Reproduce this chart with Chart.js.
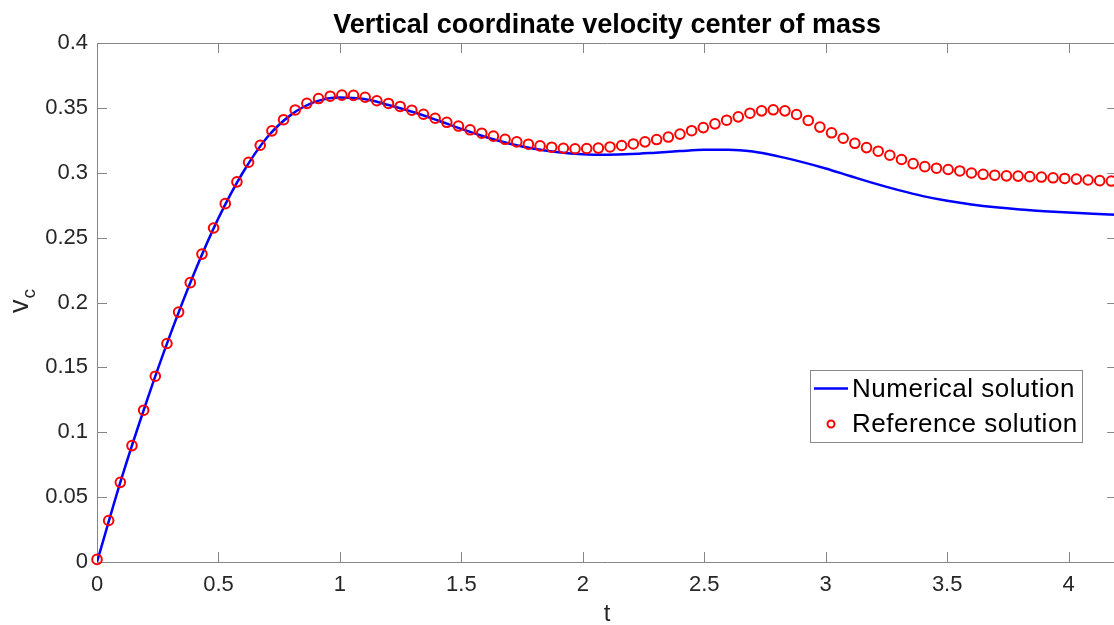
<!DOCTYPE html>
<html>
<head>
<meta charset="utf-8">
<script src="https://cdn.jsdelivr.net/npm/chart.js@4.4.1/dist/chart.umd.min.js"></script>
<style>
  html, body { margin: 0; padding: 0; background: #fff; overflow: hidden; }
  /* The canvas is a bit wider than the window: the axes box runs just past the right edge. */
  #wrap { width: 1114px; height: 625px; overflow: hidden; }
</style>
</head>
<body>
<div id="wrap"><canvas id="vc-chart" width="1124" height="625"></canvas></div>
<script>
// Reference solution samples (red circles).
const refT = [
    0.000, 0.048, 0.096, 0.144, 0.192, 0.240, 0.288, 0.336, 0.384, 0.432,
    0.480, 0.528, 0.576, 0.624, 0.672, 0.720, 0.768, 0.816, 0.864, 0.912,
    0.960, 1.008, 1.056, 1.104, 1.152, 1.200, 1.248, 1.296, 1.344, 1.392,
    1.440, 1.488, 1.536, 1.584, 1.632, 1.680, 1.728, 1.776, 1.824, 1.872,
    1.920, 1.968, 2.016, 2.064, 2.112, 2.160, 2.208, 2.256, 2.304, 2.352,
    2.400, 2.448, 2.496, 2.544, 2.592, 2.640, 2.688, 2.736, 2.784, 2.832,
    2.880, 2.928, 2.976, 3.024, 3.072, 3.120, 3.168, 3.216, 3.264, 3.312,
    3.360, 3.408, 3.456, 3.504, 3.552, 3.600, 3.648, 3.696, 3.744, 3.792,
    3.840, 3.888, 3.936, 3.984, 4.032, 4.080, 4.128, 4.176
];
const refV = [
    0.0020, 0.0320, 0.0614, 0.0897, 0.1170, 0.1432, 0.1684, 0.1926, 0.2153, 0.2373,
    0.2574, 0.2762, 0.2930, 0.3081, 0.3212, 0.3323, 0.3409, 0.3484, 0.3535, 0.3572,
    0.3590, 0.3598, 0.3596, 0.3582, 0.3555, 0.3534, 0.3511, 0.3482, 0.3451, 0.3420,
    0.3389, 0.3360, 0.3331, 0.3305, 0.3282, 0.3258, 0.3238, 0.3220, 0.3207, 0.3197,
    0.3189, 0.3185, 0.3187, 0.3190, 0.3199, 0.3210, 0.3222, 0.3238, 0.3256, 0.3275,
    0.3298, 0.3324, 0.3348, 0.3377, 0.3405, 0.3431, 0.3459, 0.3477, 0.3485, 0.3477,
    0.3449, 0.3403, 0.3352, 0.3308, 0.3266, 0.3227, 0.3194, 0.3166, 0.3135, 0.3102,
    0.3070, 0.3047, 0.3035, 0.3025, 0.3014, 0.2998, 0.2988, 0.2981, 0.2976, 0.2974,
    0.2970, 0.2967, 0.2961, 0.2956, 0.2951, 0.2944, 0.2939, 0.2936
];

// Numerical solution (blue line).
const numT = [
    0.0, 0.1, 0.2, 0.3, 0.4, 0.5, 0.6, 0.7, 0.8, 0.9,
    1.0, 1.1, 1.2, 1.3, 1.4, 1.5, 1.6, 1.7, 1.8, 1.9,
    2.0, 2.1, 2.2, 2.3, 2.4, 2.5, 2.6, 2.7, 2.8, 2.9,
    3.0, 3.1, 3.2, 3.3, 3.4, 3.5, 3.6, 3.7, 3.8, 3.9,
    4.0, 4.1, 4.2
];
const numV = [
    0.0000, 0.0638, 0.1214, 0.1745, 0.2226, 0.2650, 0.3000, 0.3272, 0.3448, 0.3548,
    0.3580, 0.3568, 0.3522, 0.3468, 0.3405, 0.3338, 0.3276, 0.3224, 0.3185, 0.3158,
    0.3143, 0.3139, 0.3144, 0.3155, 0.3167, 0.3177, 0.3178, 0.3163, 0.3128, 0.3084,
    0.3033, 0.2975, 0.2918, 0.2866, 0.2820, 0.2784, 0.2756, 0.2734, 0.2717, 0.2704,
    0.2693, 0.2684, 0.2676
];

const titleText = "Vertical coordinate velocity center of mass";
const xLabel = "t";
const legendLabels = ["Numerical solution", "Reference solution"];

const FONT = "'Liberation Sans', Arial, Helvetica, sans-serif";
const AXIS_GREY = "#868686";
const TICK_TEXT = "#262626";

const toPoints = (xs, ys) => xs.map((x, i) => ({ x, y: ys[i] }));

// MATLAB-style box with inward tick marks on all four sides.
const axesBox = {
    id: "axesBox",
    beforeDatasetsDraw(chart) {
        const { ctx, chartArea: a, scales: { x, y } } = chart;
        const len = 10;
        ctx.save();
        ctx.strokeStyle = AXIS_GREY;
        ctx.lineWidth = 1;
        ctx.beginPath();
        ctx.rect(a.left + 0.5, a.top + 0.5, a.right - a.left, a.bottom - a.top);
        for (const t of x.ticks) {
            const px = Math.round(x.getPixelForValue(t.value)) + 0.5;
            ctx.moveTo(px, a.bottom); ctx.lineTo(px, a.bottom - len);
            ctx.moveTo(px, a.top);    ctx.lineTo(px, a.top + len);
        }
        for (const t of y.ticks) {
            const py = Math.round(y.getPixelForValue(t.value)) + 0.5;
            ctx.moveTo(a.left, py);  ctx.lineTo(a.left + len, py);
            ctx.moveTo(a.right, py); ctx.lineTo(a.right - len, py);
        }
        ctx.stroke();
        ctx.restore();
    },
};

// y label with a subscript: v_c, rotated.
const yLabel = {
    id: "yLabel",
    afterDraw(chart) {
        const { ctx } = chart;
        ctx.save();
        ctx.translate(28, 313);
        ctx.rotate(-Math.PI / 2);
        ctx.fillStyle = TICK_TEXT;
        ctx.textBaseline = "alphabetic";
        ctx.textAlign = "left";
        ctx.font = `27px ${FONT}`;
        ctx.fillText("v", 0, 0);
        const w = ctx.measureText("v").width;
        ctx.font = `19px ${FONT}`;
        ctx.fillText("c", w + 1, 7);
        ctx.restore();
    },
};

// Boxed legend inside the axes, lower right.
const boxLegend = {
    id: "boxLegend",
    afterDraw(chart) {
        const { ctx } = chart;
        const bx = 810.5, by = 370.5, bw = 272, bh = 72;
        ctx.save();
        ctx.fillStyle = "#fff";
        ctx.fillRect(bx, by, bw, bh);
        ctx.strokeStyle = "#8a8a8a";
        ctx.lineWidth = 1;
        ctx.strokeRect(bx, by, bw, bh);

        const lineDs = chart.data.datasets[0];
        const refDs = chart.data.datasets[1];
        ctx.strokeStyle = lineDs.borderColor;
        ctx.lineWidth = lineDs.borderWidth;
        ctx.beginPath();
        ctx.moveTo(814, 388.5);
        ctx.lineTo(848, 388.5);
        ctx.stroke();

        ctx.strokeStyle = refDs.borderColor;
        ctx.lineWidth = refDs.pointBorderWidth;
        ctx.beginPath();
        ctx.arc(831, 424, 3.5, 0, Math.PI * 2);
        ctx.stroke();

        ctx.fillStyle = "#000";
        ctx.font = `26px ${FONT}`;
        ctx.letterSpacing = "0.5px";
        ctx.textBaseline = "middle";
        ctx.textAlign = "left";
        ctx.fillText(legendLabels[0], 852, 390);
        ctx.fillText(legendLabels[1], 852, 425);
        ctx.restore();
    },
};

function fmtTick(v) {
    return String(+v.toFixed(2));
}

new Chart(document.getElementById("vc-chart"), {
    type: "scatter",
    data: {
        datasets: [
            {
                label: legendLabels[0],
                type: "line",
                data: toPoints(numT, numV),
                borderColor: "#0000ff",
                backgroundColor: "#0000ff",
                borderWidth: 2.5,
                pointRadius: 0,
                cubicInterpolationMode: "monotone",
                fill: false,
                order: 1,
            },
            {
                label: legendLabels[1],
                data: toPoints(refT, refV),
                borderColor: "#ff0000",
                backgroundColor: "rgba(0,0,0,0)",
                pointRadius: 4.8,
                pointBorderWidth: 2,
                pointStyle: "circle",
                clip: false,
                order: 0,
            },
        ],
    },
    options: {
        responsive: false,
        animation: false,
        devicePixelRatio: 1,
        layout: { padding: 0 },
        plugins: {
            legend: { display: false },
            tooltip: { enabled: false },
            title: {
                display: true,
                text: titleText,
                fullSize: false,
                color: "#000",
                font: { family: FONT, size: 27, weight: "bold", lineHeight: 1.2 },
                padding: { top: 9, bottom: 1.6 },
            },
        },
        scales: {
            x: {
                type: "linear",
                min: 0,
                max: 4.2,
                grid: { display: false, drawTicks: false },
                border: { display: false },
                ticks: {
                    stepSize: 0.5,
                    includeBounds: false,
                    maxRotation: 0,
                    padding: 10,
                    color: TICK_TEXT,
                    font: { family: FONT, size: 22 },
                    callback: fmtTick,
                },
                title: {
                    display: true,
                    text: xLabel,
                    color: TICK_TEXT,
                    font: { family: FONT, size: 24 },
                    padding: { top: 0, bottom: -4 },
                },
                afterFit(scale) {
                    scale.height = 63;
                    scale.paddingLeft = 0;
                    scale.paddingRight = 0;
                },
            },
            y: {
                min: 0,
                max: 0.4,
                grid: { display: false, drawTicks: false },
                border: { display: false },
                ticks: {
                    stepSize: 0.05,
                    padding: 9,
                    color: TICK_TEXT,
                    font: { family: FONT, size: 22 },
                    callback: fmtTick,
                },
                afterFit(scale) {
                    scale.width = 97;
                    scale.paddingTop = 0;
                    scale.paddingBottom = 0;
                },
            },
        },
    },
    plugins: [axesBox, yLabel, boxLegend],
});
</script>
</body>
</html>
